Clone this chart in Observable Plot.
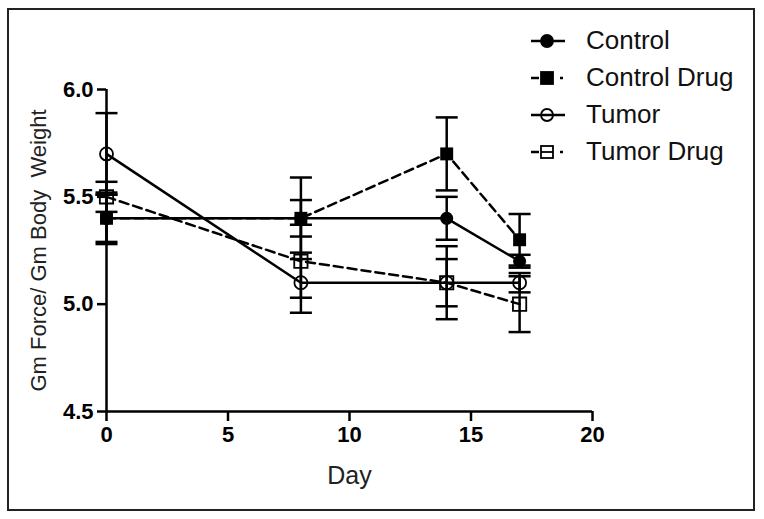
<!DOCTYPE html>
<html>
<head>
<meta charset="utf-8">
<script src="https://cdn.jsdelivr.net/npm/d3@7"></script>
<script src="https://cdn.jsdelivr.net/npm/@observablehq/plot@0.6"></script>
<style>
  html, body { margin: 0; padding: 0; background: #fff; }
  #wrap { position: relative; width: 764px; height: 519px; font-family: "Liberation Sans", Arial, sans-serif; }
  #frame { position: absolute; left: 7px; top: 8px; width: 744px; height: 499px; border: 2px solid #222; pointer-events: none; }
  #legend { position: absolute; left: 530px; top: 22px; }
  .item { display: flex; align-items: center; height: 37px; font-size: 26px; color: #111; }
  .item svg { margin-right: 20px; }
</style>
</head>
<body>
<div id="wrap"><div id="frame"></div><div id="legend"></div></div>
<script>
const days = [0, 8, 14, 17];
const seriesNames = ["Control", "Control Drug", "Tumor", "Tumor Drug"];
const control = [5.4, 5.4, 5.4, 5.2];
const controlErr = [0.12, 0.085, 0.1, 0.03];
const controlDrug = [5.4, 5.4, 5.7, 5.3];
const controlDrugErr = [0.11, 0.19, 0.17, 0.12];
const tumor = [5.7, 5.1, 5.1, 5.1];
const tumorErr = [0.19, 0.14, 0.11, 0.045];
const tumorDrug = [5.5, 5.2, 5.1, 5.0];
const tumorDrugErr = [0.07, 0.17, 0.17, 0.13];
const xTicks = [0, 5, 10, 15, 20];
const yTicks = [4.5, 5.0, 5.5, 6.0];

const values = [control, controlDrug, tumor, tumorDrug];
const errs = [controlErr, controlDrugErr, tumorErr, tumorDrugErr];
const styles = [
  {dash: null, symbol: "circle", fill: "black", r: 6.5},
  {dash: "9,5", symbol: "square", fill: "black", r: 7.3},
  {dash: null, symbol: "circle", fill: "none", r: 6.5},
  {dash: "9,5", symbol: "square", fill: "none", r: 7.5}
];

const rows = [];
seriesNames.forEach((s, i) => days.forEach((d, j) => rows.push({series: s, idx: i, day: d, value: values[i][j], err: errs[i][j]})));

const cap = {draw(ctx, size) { const r = Math.sqrt(size / Math.PI); ctx.moveTo(-r, 0); ctx.lineTo(r, 0); }};

const marks = [];
seriesNames.forEach((s, i) => {
  marks.push(Plot.line(rows.filter(d => d.idx === i), {x: "day", y: "value", stroke: "black", strokeWidth: 2.5, strokeDasharray: styles[i].dash}));
});
marks.push(Plot.ruleX(rows, {x: "day", y1: d => d.value - d.err, y2: d => d.value + d.err, stroke: "black", strokeWidth: 2.5}));
marks.push(Plot.dot(rows, {x: "day", y: d => d.value - d.err, symbol: cap, r: 11, stroke: "black", strokeWidth: 2.5}));
marks.push(Plot.dot(rows, {x: "day", y: d => d.value + d.err, symbol: cap, r: 11, stroke: "black", strokeWidth: 2.5}));
seriesNames.forEach((s, i) => {
  const st = styles[i];
  marks.push(Plot.dot(rows.filter(d => d.idx === i), {x: "day", y: "value", symbol: st.symbol, r: st.r, fill: st.fill, stroke: "black", strokeWidth: st.fill === "none" ? 1.8 : 0}));
});

const chart = Plot.plot({
  width: 764, height: 519,
  marginLeft: 106, marginRight: 172, marginTop: 89, marginBottom: 108,
  style: {fontFamily: "Liberation Sans, Arial, sans-serif", background: "transparent", color: "black", overflow: "visible"},
  x: {domain: [0, 20]},
  y: {domain: [4.5, 6.0]},
  marks: [
    Plot.axisX({ticks: xTicks, tickSize: 10, tickPadding: 5, strokeWidth: 2.5, fontSize: 22, fontWeight: "bold", label: null}),
    Plot.axisY({ticks: yTicks, tickFormat: d3.format(".1f"), tickSize: 9, tickPadding: 4, strokeWidth: 2.5, fontSize: 22, fontWeight: "bold", label: null}),
    Plot.text(["Day"], {frameAnchor: "bottom", dy: 72, fontSize: 25, fill: "#222"}),
    Plot.text(["Gm Force/ Gm Body  Weight"], {frameAnchor: "left", textAnchor: "middle", dx: -68, rotate: -90, fontSize: 22, fill: "#222"}),
    ...marks,
    Plot.ruleX([0], {strokeWidth: 2.5}),
    Plot.ruleY([4.5], {strokeWidth: 2.5})
  ]
});
document.getElementById("wrap").prepend(chart);

// legend
const legend = document.getElementById("legend");
seriesNames.forEach((s, i) => {
  const st = styles[i];
  const ns = "http://www.w3.org/2000/svg";
  const svg = document.createElementNS(ns, "svg");
  svg.setAttribute("width", 36); svg.setAttribute("height", 20);
  const cy = 10, cx = 17;
  const add = (tag, attrs) => { const e = document.createElementNS(ns, tag); for (const k in attrs) e.setAttribute(k, attrs[k]); svg.appendChild(e); };
  if (st.dash) {
    add("line", {x1: 1, x2: 9, y1: cy, y2: cy, stroke: "black", "stroke-width": 2.5});
    add("line", {x1: 30, x2: 33, y1: cy, y2: cy, stroke: "black", "stroke-width": 2.5});
  } else {
    add("line", {x1: 1, x2: 35, y1: cy, y2: cy, stroke: "black", "stroke-width": 2.5});
  }
  if (st.symbol === "circle") {
    add("circle", {cx, cy, r: 6, fill: st.fill === "none" ? "none" : "black", stroke: "black", "stroke-width": 1.8});
  } else {
    add("rect", {x: cx - 6, y: cy - 6, width: 12, height: 12, fill: st.fill === "none" ? "none" : "black", stroke: "black", "stroke-width": 1.8});
    if (st.fill === "none") add("line", {x1: cx - 6, x2: cx + 6, y1: cy, y2: cy, stroke: "black", "stroke-width": 1.8});
  }
  const div = document.createElement("div");
  div.className = "item";
  div.appendChild(svg);
  div.appendChild(document.createTextNode(s));
  legend.appendChild(div);
});
</script>
</body>
</html>
